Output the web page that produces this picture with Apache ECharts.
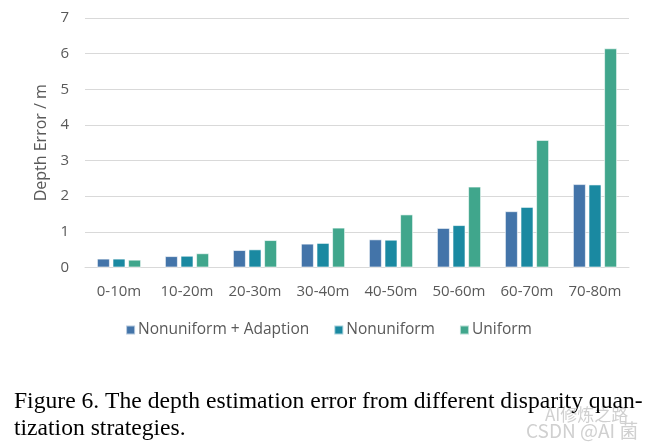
<!DOCTYPE html>
<html>
<head>
<meta charset="utf-8">
<script src="https://cdn.jsdelivr.net/npm/echarts@6/dist/echarts.min.js"></script>
<style>
  html, body { margin: 0; padding: 0; background: #fff; }
  #chart { width: 657px; height: 447px; }
</style>
</head>
<body>
<div id="chart"></div>
<script>
// 数据
var categories = ['0-10m', '10-20m', '20-30m', '30-40m', '40-50m', '50-60m', '60-70m', '70-80m'];
var adaption   = [0.25, 0.32, 0.49, 0.67, 0.79, 1.11, 1.58, 2.34];
var nonuniform = [0.25, 0.33, 0.51, 0.69, 0.78, 1.19, 1.70, 2.33];
var uniform    = [0.22, 0.40, 0.77, 1.12, 1.49, 2.27, 3.58, 6.15];
var seriesNames = ['Nonuniform + Adaption', 'Nonuniform', 'Uniform'];
var caption = ['Figure 6. The depth estimation error from different disparity quan-', 'tization strategies.'];

var colors = ['#4374a9', '#1a89a1', '#40a68c'];
var sansFont = '"Open Sans", "Noto Sans", sans-serif';

function barSeries(name, data, color) {
    return {
        name: name,
        type: 'bar',
        data: data,
        barWidth: 13,
        barGap: '20%',
        itemStyle: {
            color: color,
            borderColor: 'rgba(255,255,255,0.6)',
            borderWidth: 1
        }
    };
}

var myChart = echarts.init(document.getElementById('chart'));
var option = {
    animation: false,
    color: colors,
    grid: {
        left: 85,
        right: 28,
        top: 18,
        bottom: 179.5
    },
    legend: {
        top: 317,
        left: 'center',
        itemWidth: 9,
        itemHeight: 9,
        itemGap: 24,
        icon: 'rect',
        textStyle: { color: '#595959', fontSize: 15.5, fontFamily: sansFont, padding: [0, 0, 0, -2] },
        data: seriesNames
    },
    xAxis: {
        type: 'category',
        data: categories,
        axisLine: { lineStyle: { color: '#d9d9d9', width: 1 } },
        axisTick: { show: false },
        axisLabel: { interval: 0, color: '#595959', fontSize: 15, fontFamily: sansFont, margin: 17 }
    },
    yAxis: {
        type: 'value',
        min: 0,
        max: 7,
        interval: 1,
        name: 'Depth Error / m',
        nameLocation: 'middle',
        nameGap: 31,
        nameTextStyle: { color: '#595959', fontSize: 16, fontFamily: sansFont },
        axisLine: { show: false },
        axisTick: { show: false },
        axisLabel: { color: '#595959', fontSize: 15, fontFamily: sansFont, margin: 16 },
        splitLine: { lineStyle: { color: '#d9d9d9', width: 1 } }
    },
    graphic: [
        {
            type: 'text', left: 545, top: 406, z: 1,
            style: { text: 'AI修炼之路', fill: '#d0d0d0', font: '17px "Noto Sans CJK SC", sans-serif' }
        },
        {
            type: 'text', left: 526, top: 421, z: 1,
            style: { text: 'CSDN @AI 菌', fill: '#d0d0d0', font: '19px "Noto Sans CJK SC", sans-serif' }
        },
        {
            type: 'text', left: 14, top: 390, z: 5,
            style: { text: caption[0], fill: '#000', font: '23.6px "Liberation Serif", "DejaVu Serif", serif' }
        },
        {
            type: 'text', left: 14, top: 417, z: 5,
            style: { text: caption[1], fill: '#000', font: '23.6px "Liberation Serif", "DejaVu Serif", serif' }
        }
    ],
    series: [
        barSeries(seriesNames[0], adaption, colors[0]),
        barSeries(seriesNames[1], nonuniform, colors[1]),
        barSeries(seriesNames[2], uniform, colors[2])
    ]
};
myChart.setOption(option);
</script>
</body>
</html>
